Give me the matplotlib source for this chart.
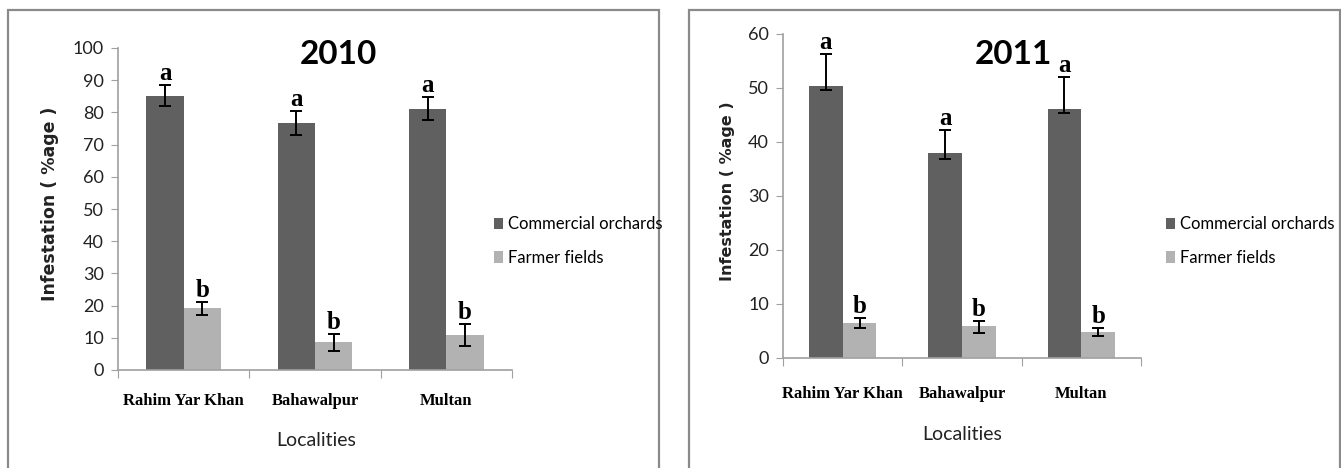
import matplotlib
matplotlib.use("Agg")
import matplotlib.pyplot as plt
import matplotlib.transforms as mtransforms
from matplotlib.patches import Rectangle
import numpy as np

# localities and treatments
localities = ["Rahim Yar Khan", "Bahawalpur", "Multan"]
series_names = ["Commercial orchards", "Farmer fields"]

# 2010 infestation (%)
commercial_2010 = [85.2, 76.7, 81.2]
commercial_2010_err = [3.3, 3.8, 3.6]
farmer_2010 = [19.1, 8.6, 10.8]
farmer_2010_err = [2.0, 2.7, 3.5]
letters_2010 = [["a", "a", "a"], ["b", "b", "b"]]

# 2011 infestation (%), error bars given as lower / upper
commercial_2011 = [50.4, 37.9, 46.2]
commercial_2011_lo = [0.8, 1.1, 0.8]
commercial_2011_hi = [5.9, 4.3, 5.9]
farmer_2011 = [6.5, 5.9, 4.8]
farmer_2011_lo = [1.0, 1.3, 0.8]
farmer_2011_hi = [0.9, 0.9, 0.7]
letters_2011 = [["a", "a", "a"], ["b", "b", "b"]]

DARK = "#606060"
LIGHT = "#b2b2b2"
AXIS = "#a0a0a0"
SANS = ["Lato", "DejaVu Sans"]
SERIF = ["Liberation Serif", "DejaVu Serif"]

W, H = 1341, 468
fig = plt.figure(figsize=(W / 100, H / 100), dpi=100)


def fx(px):
    return px / W


def fy(py):
    return 1 - py / H


def draw_panel(box, ax_px, ymax, year, series, errs, letters,
               title_xy, ylabel_x, ylabel_size, xlabel_xy, tick_y, legend_x):
    # panel frame (open at the bottom edge of the figure)
    x0, y0, x1 = box
    fig.patches.append(Rectangle((fx(x0), -0.01), fx(x1 - x0), fy(y0) + 0.01,
                                 transform=fig.transFigure, fill=False,
                                 edgecolor="#8a8a8a", lw=1.6))

    left, top, right, bottom = ax_px
    ax = fig.add_axes([fx(left), fy(bottom), fx(right - left), fy(top) - fy(bottom)])
    n = len(localities)
    x = np.arange(n) + 0.5
    width = 0.283
    colors = [DARK, LIGHT]
    for i, (vals, err) in enumerate(zip(series, errs)):
        xs = x + (i - 0.5) * width
        ax.bar(xs, vals, width, color=colors[i], label=series_names[i], zorder=2)
        ax.errorbar(xs, vals, yerr=err, fmt="none", ecolor="black",
                    elinewidth=1.4, capsize=4, capthick=1.4, zorder=3)
        upper = np.array(vals) + np.atleast_2d(err)[-1]
        for xi, yi, lab in zip(xs, upper, letters[i]):
            ax.annotate(lab, (xi, yi), xytext=(0, 0), textcoords="offset points",
                        ha="center", va="bottom", fontsize=18, fontweight="bold",
                        family=SERIF, zorder=4)

    ax.set_xlim(0, n)
    ax.set_ylim(0, ymax)
    ax.set_yticks(np.arange(0, ymax + 1, 10))
    ax.tick_params(axis="y", direction="out", length=5, color=AXIS, labelsize=13,
                   labelcolor="#222222", pad=5)
    for lab in ax.get_yticklabels():
        lab.set_family(SANS)
    ax.set_xticks(np.arange(n + 1))
    ax.set_xticklabels([])
    ax.tick_params(axis="x", direction="out", length=6, color=AXIS)
    for sp in ["top", "right"]:
        ax.spines[sp].set_visible(False)
    for sp in ["left", "bottom"]:
        ax.spines[sp].set_color(AXIS)
        ax.spines[sp].set_linewidth(1.2)

    # locality names below the axis
    trans = mtransforms.blended_transform_factory(ax.transData, fig.transFigure)
    for xi, name in zip(x, localities):
        ax.text(xi, fy(tick_y), name, transform=trans, ha="center", va="center",
                fontsize=12, fontweight="bold", family=SERIF)

    fig.text(fx(title_xy[0]), fy(title_xy[1]), year, ha="center", va="center",
             fontsize=24, fontweight="bold", family=SANS)
    fig.text(fx(ylabel_x), fy((top + bottom) / 2 - 5), "Infestation ( %age )",
             rotation=90, ha="center", va="center", fontsize=ylabel_size,
             fontweight="bold", family="DejaVu Sans", color="#222222")
    fig.text(fx(xlabel_xy[0]), fy(xlabel_xy[1]), "Localities", ha="center",
             va="center", fontsize=14, family=SANS, color="#222222")

    handles, labels = ax.get_legend_handles_labels()
    fig.legend(handles[:2], labels[:2], loc="center left",
               bbox_to_anchor=(fx(legend_x), fy(241)), frameon=False,
               prop={"family": SANS, "size": 12}, handlelength=0.55,
               handleheight=0.7, handletextpad=0.3, labelspacing=1.05,
               borderpad=0, borderaxespad=0)
    return ax


draw_panel(box=(8, 10, 659), ax_px=(118, 48, 512, 370), ymax=100,
           year="2010",
           series=[commercial_2010, farmer_2010],
           errs=[commercial_2010_err, farmer_2010_err],
           letters=letters_2010,
           title_xy=(338, 54), ylabel_x=50, ylabel_size=12.5,
           xlabel_xy=(316, 440), tick_y=401, legend_x=494)

draw_panel(box=(689, 10, 1340), ax_px=(783, 34, 1141, 358), ymax=60,
           year="2011",
           series=[commercial_2011, farmer_2011],
           errs=[[commercial_2011_lo, commercial_2011_hi],
                 [farmer_2011_lo, farmer_2011_hi]],
           letters=letters_2011,
           title_xy=(1013, 55), ylabel_x=727, ylabel_size=11.5,
           xlabel_xy=(962, 434), tick_y=394, legend_x=1166)

fig.savefig("out.png", dpi=100)
